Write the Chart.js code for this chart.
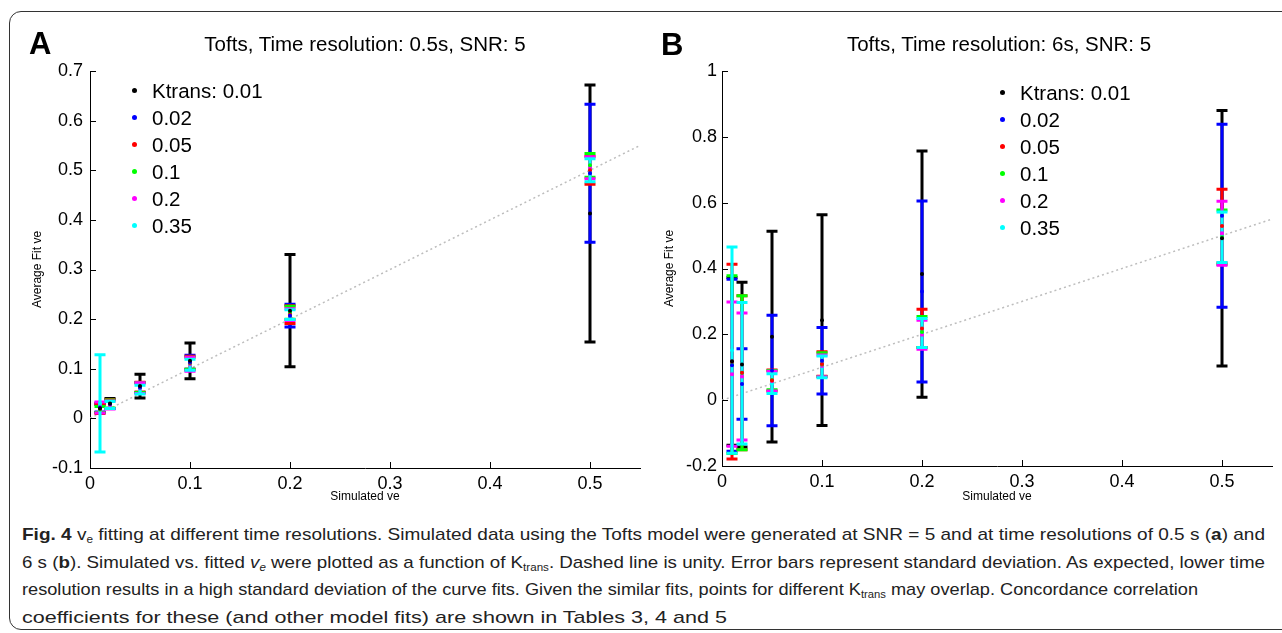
<!DOCTYPE html>
<html>
<head>
<meta charset="utf-8">
<script src="https://cdn.jsdelivr.net/npm/chart.js@4.4.1/dist/chart.umd.min.js"></script>
<style>
  body { margin: 0; background: #fff; width: 1282px; height: 633px; overflow: hidden; position: relative;
         font-family: "Liberation Sans", Arial, sans-serif; color: #000; }
  .frame { position: absolute; left: 9px; top: 11px; width: 1300px; height: 619px; border: 1.5px solid #333;
           border-radius: 12px; box-sizing: border-box; }
  canvas { position: absolute; top: 0; }
  #chartA { left: 0; }
  #chartB { left: 632px; }
  .panel { position: absolute; font-weight: bold; font-size: 31px; line-height: 1; }
  .title { position: absolute; font-size: 20.5px; transform: translateX(-50%); white-space: nowrap; line-height: 1; }
  .legend { position: absolute; font-size: 20.5px; }
  .legend div { height: 27px; line-height: 27px; position: relative; padding-left: 20px; white-space: nowrap; }
  .legend span { position: absolute; left: 0; top: 11px; width: 5px; height: 5px; border-radius: 50%; }
  .caption { position: absolute; left: 22px; top: 521px; font-size: 17px; line-height: 27.5px; color: #222; }
  .caption div { white-space: nowrap; transform-origin: 0 50%; width: max-content; }
  .caption sub { font-size: 0.62em; vertical-align: -0.3em; line-height: 0; }
</style>
</head>
<body>
<div class="frame"></div>
<canvas id="chartA" width="650" height="505"></canvas>
<canvas id="chartB" width="650" height="505"></canvas>
<div class="panel" style="left:29px; top:28px;">A</div>
<div class="panel" style="left:661px; top:29px;">B</div>
<div class="title" style="left:365px; top:34px;">Tofts, Time resolution: 0.5s, SNR: 5</div>
<div class="title" style="left:999px; top:34px;">Tofts, Time resolution: 6s, SNR: 5</div>
<div class="legend" id="legendA" style="left:132px; top:77px;"></div>
<div class="legend" id="legendB" style="left:1000px; top:79px;"></div>
<div class="caption" id="caption">
<div><b>Fig. 4</b> v<sub>e</sub> fitting at different time resolutions. Simulated data using the Tofts model were generated at SNR = 5 and at time resolutions of 0.5 s (<b>a</b>) and</div>
<div>6 s (<b>b</b>). Simulated vs. fitted <i>v<sub>e</sub></i> were plotted as a function of K<sub>trans</sub>. Dashed line is unity. Error bars represent standard deviation. As expected, lower time</div>
<div>resolution results in a high standard deviation of the curve fits. Given the similar fits, points for different K<sub>trans</sub> may overlap. Concordance correlation</div>
<div>coefficients for these (and other model fits) are shown in Tables 3, 4 and 5</div>
</div>
<script>
// x positions (simulated ve) and series names
const simulatedVe = [0.01, 0.02, 0.05, 0.1, 0.2, 0.5];
const ktransLabels = ['Ktrans: 0.01', '0.02', '0.05', '0.1', '0.2', '0.35'];
const unityX = [0, 0.55];

// panel A, time resolution 0.5 s: mean fitted ve and standard deviation per Ktrans
const meanA_001 = [0.020, 0.030, 0.065, 0.116, 0.217, 0.413];
const sdA_001   = [0.008, 0.010, 0.024, 0.036, 0.113, 0.259];
const meanA_002 = [0.022, 0.029, 0.062, 0.113, 0.207, 0.494];
const sdA_002   = [0.009, 0.009, 0.010, 0.014, 0.023, 0.139];
const meanA_005 = [0.020, 0.029, 0.063, 0.112, 0.209, 0.500];
const sdA_005   = [0.010, 0.009, 0.010, 0.013, 0.018, 0.028];
const meanA_01  = [0.018, 0.029, 0.062, 0.111, 0.213, 0.510];
const sdA_01    = [0.006, 0.008, 0.010, 0.012, 0.013, 0.024];
const meanA_02  = [0.022, 0.027, 0.061, 0.109, 0.209, 0.505];
const sdA_02    = [0.011, 0.008, 0.011, 0.014, 0.012, 0.022];
const meanA_035 = [0.030, 0.027, 0.058, 0.108, 0.209, 0.500];
const sdA_035   = [0.098, 0.007, 0.009, 0.011, 0.010, 0.023];

// panel B, time resolution 6 s
const meanB_001 = [0.118, 0.108, 0.193, 0.243, 0.383, 0.492];
const sdB_001   = [0.255, 0.250, 0.320, 0.320, 0.374, 0.388];
const meanB_002 = [0.106, 0.049, 0.090, 0.120, 0.330, 0.560];
const sdB_002   = [0.261, 0.107, 0.168, 0.101, 0.275, 0.278];
const meanB_005 = [0.117, 0.083, 0.060, 0.110, 0.218, 0.529];
const sdB_005   = [0.296, 0.234, 0.032, 0.037, 0.058, 0.112];
const meanB_01  = [0.108, 0.083, 0.061, 0.108, 0.207, 0.495];
const sdB_01    = [0.270, 0.234, 0.029, 0.036, 0.047, 0.083];
const meanB_02  = [0.079, 0.072, 0.058, 0.104, 0.199, 0.507];
const sdB_02    = [0.219, 0.193, 0.030, 0.033, 0.044, 0.097];
const meanB_035 = [0.152, 0.082, 0.050, 0.101, 0.204, 0.495];
const sdB_035   = [0.313, 0.215, 0.030, 0.033, 0.044, 0.077];

const colors = ['#000000', '#0000ff', '#ff0000', '#00ff00', '#ff00ff', '#00ffff'];

// legends (html)
['legendA', 'legendB'].forEach(id => {
    const el = document.getElementById(id);
    ktransLabels.forEach((lab, i) => {
        const row = document.createElement('div');
        row.innerHTML = '<span style="background:' + colors[i] + '"></span>' + lab;
        el.appendChild(row);
    });
});

// caption lines: squeeze/stretch each line to the width it has in the figure
const captionWidths = [1243, 1243, 1176, 705];
document.querySelectorAll('#caption div').forEach((line, i) => {
    const w = line.getBoundingClientRect().width;
    line.style.transform = 'scaleX(' + (captionWidths[i] / w) + ')';
});

// vertical error bars, drawn right after the unity line so dots end up on top
const errorBars = {
    id: 'errorBars',
    afterDatasetDraw(chart, args) {
        if (args.meta.type !== 'line') return;
        const ctx = chart.ctx, xs = chart.scales.x, ys = chart.scales.y;
        ctx.save();
        ctx.lineWidth = 3;
        chart.data.datasets.forEach(ds => {
            if (!ds.sd) return;
            ctx.strokeStyle = ds.borderColor;
            ds.data.forEach((p, i) => {
                const x = xs.getPixelForValue(p.x);
                const yTop = ys.getPixelForValue(p.y + ds.sd[i]);
                const yBot = ys.getPixelForValue(p.y - ds.sd[i]);
                ctx.beginPath();
                ctx.moveTo(x, yTop); ctx.lineTo(x, yBot);
                ctx.moveTo(x - 5.5, yTop); ctx.lineTo(x + 5.5, yTop);
                ctx.moveTo(x - 5.5, yBot); ctx.lineTo(x + 5.5, yBot);
                ctx.stroke();
            });
        });
        ctx.restore();
    }
};

// matlab style ticks pointing into the plot
const innerTicks = {
    id: 'innerTicks',
    afterDraw(chart) {
        const {ctx, chartArea: a, scales: {x, y}} = chart;
        ctx.save();
        ctx.strokeStyle = '#000';
        ctx.lineWidth = 1;
        ctx.beginPath();
        x.ticks.forEach(t => {
            const px = Math.round(x.getPixelForValue(t.value)) + 0.5;
            ctx.moveTo(px, a.bottom); ctx.lineTo(px, a.bottom - 6);
        });
        y.ticks.forEach(t => {
            const py = Math.round(y.getPixelForValue(t.value)) + 0.5;
            ctx.moveTo(a.left, py); ctx.lineTo(a.left + 6, py);
        });
        ctx.stroke();
        ctx.restore();
    }
};

const fmt = v => String(Number(v.toFixed(2)));

function buildChart(canvasId, means, sds, yMin, yMax, yStep, xAxisHeight, yLabelPad) {
    const datasets = means.map((m, k) => ({
        type: 'scatter',
        label: ktransLabels[k],
        data: simulatedVe.map((v, i) => ({ x: v, y: m[i] })),
        sd: sds[k],
        borderColor: colors[k],
        backgroundColor: colors[k],
        pointRadius: 2,
        pointBorderWidth: 0,
        order: 0
    }));
    datasets.push({
        type: 'line',
        label: 'unity',
        data: unityX.map(v => ({ x: v, y: v })),
        borderColor: '#bdbdbd',
        borderWidth: 1.5,
        borderDash: [2, 3],
        pointRadius: 0,
        fill: false,
        order: 10
    });

    return new Chart(document.getElementById(canvasId), {
        type: 'scatter',
        data: { datasets: datasets },
        options: {
            responsive: false,
            animation: false,
            devicePixelRatio: 1,
            layout: { padding: { top: 71, right: 10, left: 0, bottom: 0 } },
            plugins: { legend: { display: false }, tooltip: { enabled: false } },
            scales: {
                x: {
                    type: 'linear', min: 0, max: 0.55,
                    afterFit: s => { s.height = xAxisHeight; },
                    grid: { drawOnChartArea: false, drawTicks: false },
                    border: { display: true, color: '#000', width: 1 },
                    ticks: { stepSize: 0.1, includeBounds: false, padding: 5, color: '#000',
                             font: { size: 18, family: 'Liberation Sans' }, callback: fmt },
                    title: { display: true, text: 'Simulated ve', color: '#000', padding: { top: 0, bottom: 1 },
                             font: { size: 12, family: 'Liberation Sans' } }
                },
                y: {
                    type: 'linear', min: yMin, max: yMax,
                    afterFit: s => { s.width = 90; },
                    grid: { drawOnChartArea: false, drawTicks: false },
                    border: { display: true, color: '#000', width: 1 },
                    ticks: { stepSize: yStep, padding: yLabelPad, color: '#000',
                             font: { size: 18, family: 'Liberation Sans' }, callback: fmt },
                    title: { display: true, text: 'Average Fit ve', color: '#000', padding: { top: 30, bottom: 0 },
                             font: { size: 12, family: 'Liberation Sans' } }
                }
            }
        },
        plugins: [errorBars, innerTicks]
    });
}

buildChart('chartA',
    [meanA_001, meanA_002, meanA_005, meanA_01, meanA_02, meanA_035],
    [sdA_001, sdA_002, sdA_005, sdA_01, sdA_02, sdA_035],
    -0.1, 0.7, 0.1, 37, 7);

buildChart('chartB',
    [meanB_001, meanB_002, meanB_005, meanB_01, meanB_02, meanB_035],
    [sdB_001, sdB_002, sdB_005, sdB_01, sdB_02, sdB_035],
    -0.2, 1, 0.2, 39, 5);
</script>
</body>
</html>
